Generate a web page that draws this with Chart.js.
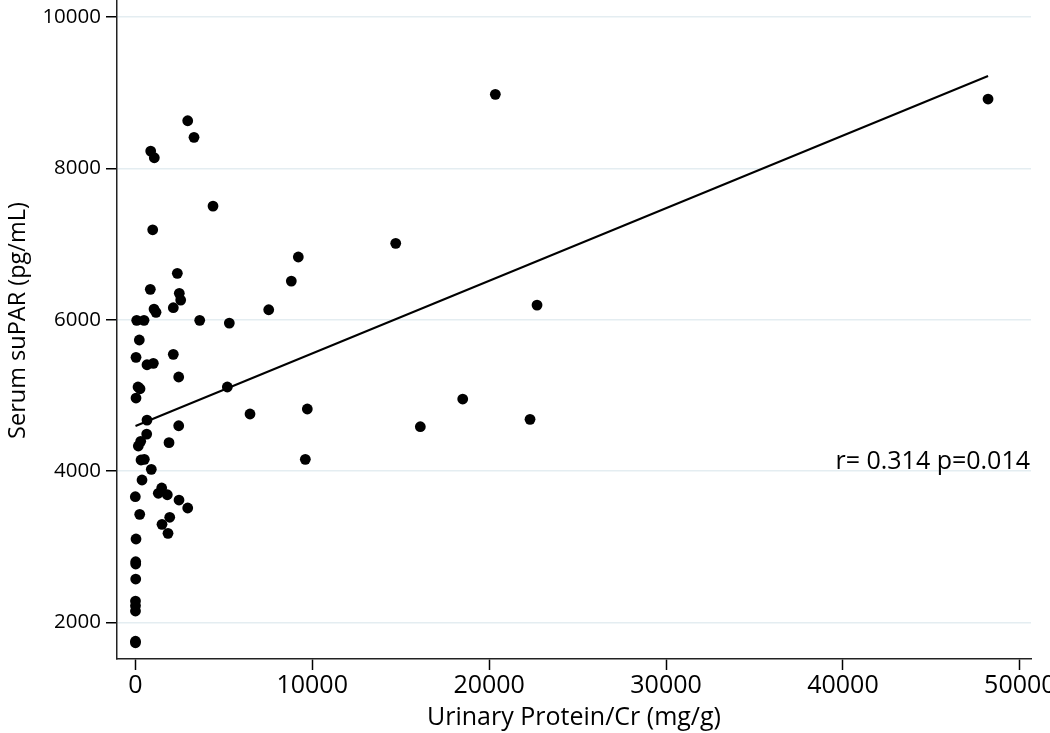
<!DOCTYPE html>
<html><head><meta charset="utf-8">
<script src="https://cdn.jsdelivr.net/npm/chart.js@4.4.0/dist/chart.umd.min.js"></script>
<style>html,body{margin:0;padding:0;background:#fff;}</style>
</head><body>
<canvas id="c" width="1050" height="733" style="display:block;width:1050px;height:733px"></canvas>
<script>
// Urinary Protein/Cr (mg/g)
const proteinCr = [2962,3318,870,1074,4392,983,9214,2375,848,8818,2487,2566,1057,1170,2148,7541,79,492,3640,5314,226,40,2148,661,1018,2453,153,266,40,5201,661,6484,9723,2453,644,305,170,1905,322,509,904,9610,379,1492,1300,1809,2470,2962,0,249,1945,1509,1848,40,23,23,23,10,10,10,10,10,14720,22708,18507,16111,22312,20351,48202];
// Serum suPAR (pg/mL)
const suPAR = [8629,8410,8228,8140,7501,7188,6828,6612,6401,6510,6348,6259,6140,6097,6158,6131,5991,5991,5991,5955,5731,5502,5542,5404,5423,5242,5110,5087,4964,5110,4673,4753,4819,4598,4488,4392,4330,4374,4145,4154,4022,4154,3881,3775,3705,3686,3616,3511,3660,3427,3388,3295,3176,3101,2801,2770,2572,2281,2219,2149,1750,1730,7009,6193,4951,4585,4683,8978,8916];
// fitted regression line end points
const fitX = [10, 48202];
const fitY = [4594, 9221];
const xTicks = [0,10000,20000,30000,40000,50000];
const yTicks = [2000,4000,6000,8000,10000];
const xTitle = 'Urinary Protein/Cr (mg/g)';
const yTitle = 'Serum suPAR (pg/mL)';
const annotation = 'r= 0.314 p=0.014';

const points = proteinCr.map((v,i)=>({x:v,y:suPAR[i]}));
const fitPts = fitX.map((v,i)=>({x:v,y:fitY[i]}));

const texts = {
  id:'texts',
  afterDatasetsDraw(chart){
    const {ctx, chartArea, scales} = chart;
    ctx.save();
    ctx.font = '25px "Open Sans"';
    ctx.fillStyle = '#000';
    ctx.textAlign = 'right';
    ctx.textBaseline = 'alphabetic';
    ctx.fillText(annotation, chartArea.right - 1, scales.y.getPixelForValue(4000) - 2);
    ctx.restore();
    ctx.save();
    ctx.font = '23.5px "Open Sans"';
    ctx.fillStyle = '#000';
    ctx.textAlign = 'center';
    ctx.textBaseline = 'alphabetic';
    ctx.translate(chartArea.left - 92, (chartArea.top + chartArea.bottom) / 2 - 9);
    ctx.rotate(-Math.PI / 2);
    ctx.fillText(yTitle, 0, 0);
    ctx.restore();
  }
};

new Chart(document.getElementById('c'), {
  type:'scatter',
  data:{datasets:[
    {type:'line', data:fitPts, borderColor:'#000', borderWidth:2, pointRadius:0, fill:false, order:2},
    {data:points, backgroundColor:'#000', borderColor:'#000', pointRadius:5.4, borderWidth:0, order:1}
  ]},
  options:{
    responsive:false, animation:false, devicePixelRatio:1,
    layout:{autoPadding:false, padding:{left:0,right:19,top:0,bottom:0}},
    plugins:{legend:{display:false}, tooltip:{enabled:false}},
    scales:{
      x:{type:'linear', min:-1035, max:50630,
        afterBuildTicks(s){ s.ticks = xTicks.map(v=>({value:v})); },
        afterFit(s){ s.height = 74; s.paddingLeft=0; s.paddingRight=0; },
        grid:{display:true, drawOnChartArea:false, drawTicks:true, tickLength:11, tickColor:'#000', tickWidth:1.5},
        border:{display:true, color:'#222', width:1.5},
        ticks:{color:'#000', font:{family:'"Open Sans"', size:25}, padding:1, maxRotation:0, autoSkip:false, callback:v=>String(v)},
        title:{display:true, text:xTitle, color:'#000', font:{family:'"Open Sans"', size:25}, padding:{top:0,bottom:0}}
      },
      y:{type:'linear', min:1515, max:10225,
        afterBuildTicks(s){ s.ticks = yTicks.map(v=>({value:v})); },
        afterFit(s){ s.width = 117; s.paddingTop=0; s.paddingBottom=0; },
        grid:{display:true, drawOnChartArea:true, color:'rgb(228,237,241)', lineWidth:1.5, drawTicks:true, tickLength:11, tickColor:'#000', tickWidth:1.5},
        border:{display:true, color:'#222', width:1.5},
        ticks:{color:'#000', font:{family:'"Open Sans"', size:20.5}, padding:5, autoSkip:false, callback:v=>String(v)},
        title:{display:false}
      }
    }
  },
  plugins:[texts]
});
</script>
</body></html>
